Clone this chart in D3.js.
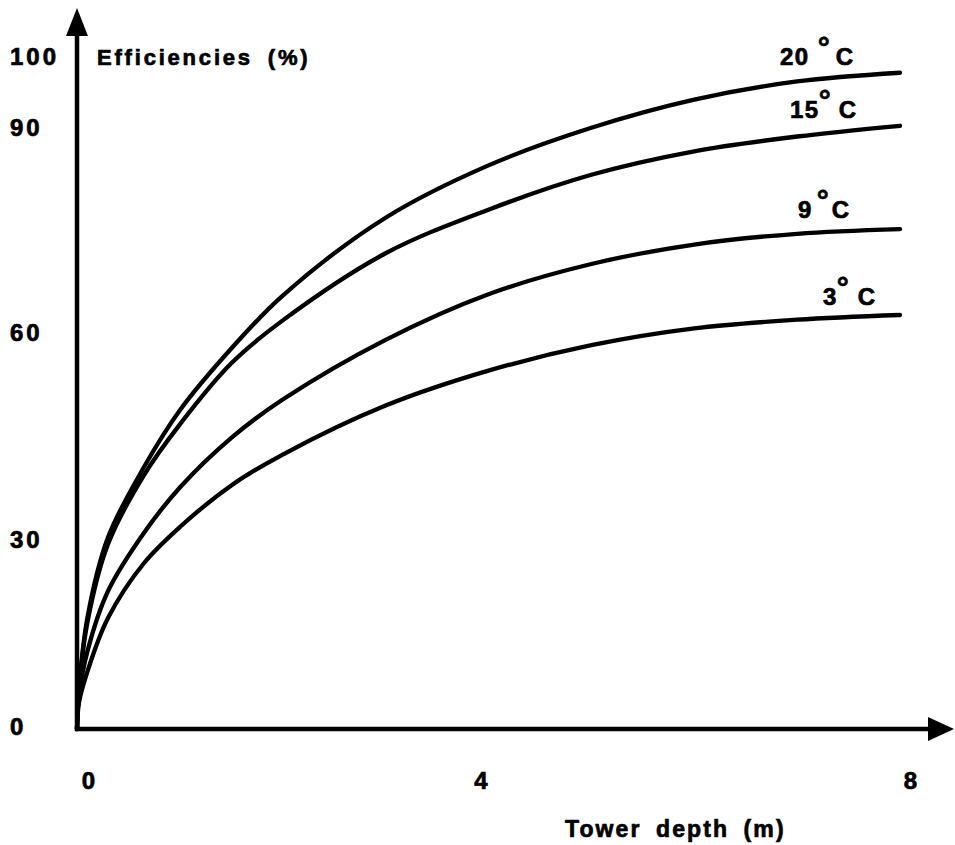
<!DOCTYPE html>
<html>
<head>
<meta charset="utf-8">
<script src="https://cdn.jsdelivr.net/npm/d3@7"></script>
<style>
  body { margin: 0; background: #fff; }
  text { font-family: "Liberation Sans", Arial, Helvetica, sans-serif; font-weight: bold; fill: #000; stroke: #000; stroke-width: 0.7; }
</style>
</head>
<body>
<svg id="drawing_region"></svg>
<script>
// tower depth (m) where the curves were read
const depth = [0, 0.02, 0.1, 0.3, 0.65, 1, 1.5, 2, 3, 4, 5, 6, 7, 8];
// efficiencies (%) for each temperature
const eff20 = [0, 6, 16.5, 28.5, 39, 47.5, 56.7, 64.6, 76.2, 84, 89.6, 93.8, 96.5, 97.8];
const eff15 = [0, 6, 15.8, 27.5, 37.8, 45.4, 54.5, 60.9, 70.9, 77.4, 82.6, 86.1, 88.3, 89.9];
const eff9  = [0, 5, 11.5, 20.5, 29.2, 36, 43.4, 49.1, 58.0, 64.8, 69.3, 72.2, 73.8, 74.5];
const eff3  = [0, 4, 8.5, 16.5, 24.7, 30.1, 36.3, 40.9, 48.2, 53.4, 57.2, 59.7, 61.0, 61.7];

const temps = ["20", "15", "9", "3"];
const yTicks = [0, 30, 60, 90, 100];
const xTicks = [0, 4, 8];

// the printed labels are not exactly on their ticks
const yTickNudge = [-2, 12, 6, 3, -1];
const xTickNudge = [11, -8, 10];

const series = [eff20, eff15, eff9, eff3].map((v, i) => ({
    temp: temps[i],
    points: depth.map((d, j) => ({ x: d, y: v[j] }))
}));

// label placement relative to the curve end: [dx, dy, gap before degree, gap before C]
const labelLayout = {
    "20": { dx: -120, dy: -8, g1: 8, g2: 6 },
    "15": { dx: -110, dy: -8, g1: -1, g2: 8 },
    "9":  { dx: -102, dy: -11, g1: 4, g2: 3 },
    "3":  { dx: -77, dy: -10, g1: -1, g2: 9 }
};

const config = {
    width: 955,
    height: 845,
    left: 77,
    right: 900,
    top: 58,
    bottom: 729
};

const svg = d3.select('#drawing_region')
    .attr('width', config.width)
    .attr('height', config.height);

const xscale = d3.scaleLinear()
    .domain([0, 8])
    .range([config.left, config.right]);

const yscale = d3.scaleLinear()
    .domain([0, 100])
    .range([config.bottom, config.top]);

// axes lines with arrowheads
const x0 = xscale(0), y0 = yscale(0);
svg.append('line')
    .attr('x1', x0).attr('y1', y0 + 2)
    .attr('x2', x0).attr('y2', 30)
    .attr('stroke', '#000').attr('stroke-width', 4.5);
svg.append('path')
    .attr('d', `M${x0},8 L${x0 - 11},36 L${x0 + 11},36 Z`)
    .attr('fill', '#000');

svg.append('line')
    .attr('x1', x0 - 2).attr('y1', y0)
    .attr('x2', 932).attr('y2', y0)
    .attr('stroke', '#000').attr('stroke-width', 4.5);
svg.append('path')
    .attr('d', `M954,${y0} L928,${y0 - 12} L928,${y0 + 12} Z`)
    .attr('fill', '#000');

// tick labels
const yaxis = d3.axisLeft(yscale)
    .tickValues(yTicks)
    .tickSize(0)
    .tickFormat(d3.format('d'));

const yaxis_group = svg.append('g')
    .attr('transform', `translate(${x0},0)`)
    .call(yaxis);
yaxis_group.select('.domain').remove();
yaxis_group.selectAll('text')
    .attr('x', 10 - x0)
    .attr('y', (d, i) => yTickNudge[i])
    .attr('text-anchor', 'start')
    .attr('font-size', 24)
    .attr('letter-spacing', 3)
    .style('font-family', '"Liberation Sans", Arial, sans-serif');

const xaxis = d3.axisBottom(xscale)
    .tickValues(xTicks)
    .tickSize(0)
    .tickFormat(d3.format('d'));

const xaxis_group = svg.append('g')
    .attr('transform', `translate(0,${y0})`)
    .call(xaxis);
xaxis_group.select('.domain').remove();
xaxis_group.selectAll('text')
    .attr('y', 60)
    .attr('dy', null)
    .attr('dx', (d, i) => xTickNudge[i])
    .attr('font-size', 24)
    .style('font-family', '"Liberation Sans", Arial, sans-serif');

// axis titles
svg.append('text')
    .attr('x', 97)
    .attr('y', 65)
    .attr('font-size', 22)
    .attr('letter-spacing', 2.8)
    .attr('word-spacing', 6)
    .text('Efficiencies (%)');

svg.append('text')
    .attr('x', 565)
    .attr('y', 837)
    .attr('font-size', 23)
    .attr('letter-spacing', 2.1)
    .attr('word-spacing', 6)
    .text('Tower depth (m)');

// curves
const line = d3.line()
    .x(d => xscale(d.x))
    .y(d => yscale(d.y))
    .curve(d3.curveCatmullRom.alpha(0.5));

svg.append('g')
    .selectAll('path')
    .data(series)
    .join('path')
    .attr('d', d => line(d.points))
    .attr('fill', 'none')
    .attr('stroke', '#000')
    .attr('stroke-width', 4.3)
    .attr('stroke-linecap', 'round');

// curve labels
series.forEach(s => {
    const last = s.points[s.points.length - 1];
    const L = labelLayout[s.temp];
    const t = svg.append('text')
        .attr('x', xscale(last.x) + L.dx)
        .attr('y', yscale(last.y) + L.dy)
        .attr('font-size', 24)
        .attr('letter-spacing', 1.5);
    t.append('tspan').text(s.temp);
    t.append('tspan')
        .attr('dx', L.g1)
        .attr('dy', -7)
        .attr('font-size', 30)
        .attr('letter-spacing', 0)
        .text('°');
    t.append('tspan')
        .attr('dx', L.g2)
        .attr('dy', 7)
        .text('C');
});
</script>
</body>
</html>
